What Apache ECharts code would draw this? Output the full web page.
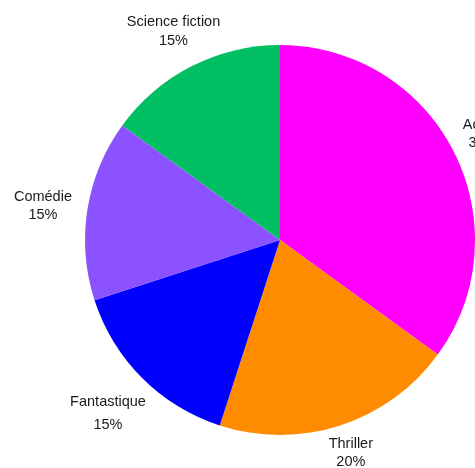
<!DOCTYPE html>
<html><head><meta charset="utf-8">
<script src="https://cdn.jsdelivr.net/npm/echarts@6/dist/echarts.min.js"></script>
<style>html,body{margin:0;padding:0;background:#fff}#c{width:475px;height:468px}</style>
</head><body><div id="c"></div>
<script>
const categories = ['Action', 'Thriller', 'Fantastique', 'Comédie', 'Science fiction'];
const values = [35, 20, 15, 15, 15];
const colors = ['#ff00ff', '#ff8c00', '#0000ff', '#8c52ff', '#00bf63'];

// small per-label nudges (px) relative to the ring position
const labelNudge = [[-10, 3], [-3, -14], [-3, 5], [-1, 3], [2, 4]];
const labelLineHeights = [18, 18, 23, 18, 19];

const data = categories.map((c, i) => ({ name: c, value: values[i], itemStyle: { color: colors[i] } }));
const labelData = categories.map((c, i) => ({ name: c, value: values[i], label: { lineHeight: labelLineHeights[i] } }));

const chart = echarts.init(document.getElementById('c'), null, { renderer: 'canvas' });
chart.setOption({
  animation: false,
  backgroundColor: '#ffffff',
  series: [
    {
      type: 'pie',
      center: [280, 240],
      radius: [0, 195],
      startAngle: 90,
      clockwise: true,
      data: data,
      label: { show: false },
      labelLine: { show: false },
      itemStyle: { borderWidth: 0 },
      silent: true
    },
    {
      type: 'pie',
      center: [280, 240],
      radius: [195, 277],
      startAngle: 90,
      clockwise: true,
      data: labelData,
      itemStyle: { color: 'rgba(0,0,0,0)', borderWidth: 0 },
      label: {
        show: true,
        position: 'inside',
        formatter: '{b}\n{d}%',
        color: '#1a1a1a',
        fontFamily: 'Liberation Sans, Arial, sans-serif',
        fontSize: 14.5,
        lineHeight: 19,
        align: 'center'
      },
      labelLayout: function (p) {
        const n = labelNudge[p.dataIndex];
        return { dx: n[0], dy: n[1], hideOverlap: false };
      },
      labelLine: { show: false },
      silent: true
    }
  ]
});
</script></body></html>
